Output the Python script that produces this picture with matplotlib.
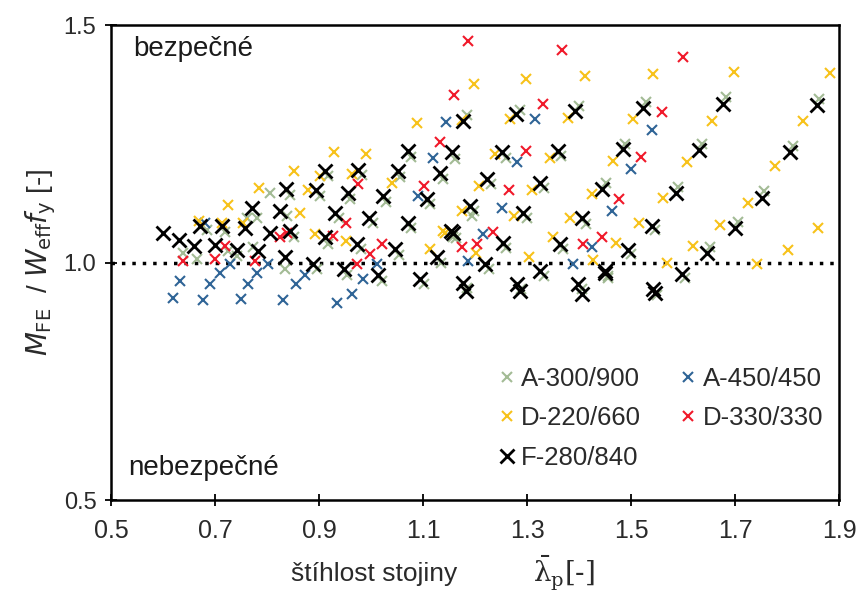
import matplotlib
matplotlib.use("Agg")
import matplotlib.pyplot as plt

plt.rcParams['font.family'] = ['Liberation Sans', 'DejaVu Sans']

# A-300/900 (green)
a300_x = [0.639, 0.665, 0.743, 0.773, 0.835, 0.761, 0.806, 0.781, 0.724, 1.194,
          0.684, 0.720, 0.839, 0.845, 0.902, 0.918, 0.983, 1.056, 0.960, 1.029,
          1.077, 1.161, 1.139, 1.114, 0.938, 1.003, 1.077, 1.158, 0.852, 0.918,
          0.980, 1.053, 1.134, 0.896, 0.954, 1.021, 1.101, 1.185, 1.287, 1.399,
          1.259, 1.366, 1.230, 1.332, 1.451, 1.198, 1.299, 1.413, 1.164, 1.260,
          1.370, 1.227, 1.332, 1.455, 1.185, 1.289, 1.405, 1.862, 1.811, 1.756,
          1.705, 1.651, 1.603, 1.549, 1.682, 1.636, 1.591, 1.546, 1.499, 1.455,
          1.528, 1.489]
a300_y = [1.021, 1.008, 1.015, 1.032, 0.987, 1.093, 1.147, 1.095, 1.025, 1.099,
          1.068, 1.065, 1.098, 1.142, 1.140, 1.182, 1.185, 1.180, 1.135, 1.128,
          1.222, 1.218, 1.176, 1.124, 1.093, 1.083, 1.072, 1.055, 1.055, 1.040,
          1.028, 1.016, 1.000, 0.986, 0.975, 0.962, 0.955, 1.310, 1.322, 1.330,
          1.220, 1.225, 1.165, 1.157, 1.168, 1.108, 1.094, 1.082, 1.051, 1.031,
          1.029, 0.987, 0.972, 0.968, 0.947, 0.945, 0.945, 1.345, 1.246, 1.150,
          1.085, 1.034, 0.968, 0.932, 1.348, 1.250, 1.160, 1.068, 1.018, 0.972,
          1.338, 1.250]

# A-450/450 (blue)
a450_x = [0.633, 0.620, 0.677, 0.691, 0.710, 0.729, 0.763, 0.749, 0.781, 0.802,
          0.831, 0.855, 0.873, 0.985, 0.935, 0.963, 1.012, 1.120, 1.145, 1.316,
          1.281, 1.251, 1.216, 1.187, 1.388, 1.425, 1.463, 1.541, 1.500, 0.681,
          1.090]
a450_y = [0.962, 0.926, 0.922, 0.956, 0.979, 0.998, 0.956, 0.924, 0.979, 0.998,
          0.922, 0.956, 0.973, 0.966, 0.916, 0.935, 0.998, 1.221, 1.297, 1.303,
          1.211, 1.116, 1.061, 1.004, 0.998, 1.032, 1.109, 1.280, 1.198, 1.084,
          1.141]

# D-220/660 (yellow)
d220_x = [0.724, 0.669, 0.714, 0.753, 0.785, 0.851, 0.929, 0.990, 1.088, 0.863,
          1.114, 1.139, 1.239, 1.345, 1.379, 1.267, 1.175, 1.208, 1.310, 1.425,
          1.175, 1.275, 1.383, 1.143, 1.202, 1.349, 1.304, 1.427, 1.198, 1.298,
          1.412, 1.882, 1.831, 1.777, 1.725, 1.671, 1.619, 1.569, 1.743, 1.802,
          1.859, 1.698, 1.655, 1.608, 1.561, 1.516, 1.471, 1.543, 1.504, 1.465,
          0.902, 0.879, 0.963, 1.041, 0.892, 0.952]
d220_y = [1.122, 1.088, 1.084, 1.084, 1.158, 1.192, 1.232, 1.229, 1.293, 1.105,
          1.029, 1.067, 1.229, 1.221, 1.305, 1.303, 1.301, 1.162, 1.152, 1.145,
          1.109, 1.099, 1.095, 1.063, 1.021, 1.053, 1.011, 1.006, 1.377, 1.387,
          1.394, 1.400, 1.299, 1.204, 1.126, 1.080, 1.036, 1.000, 0.998, 1.027,
          1.074, 1.402, 1.299, 1.211, 1.137, 1.084, 1.042, 1.398, 1.303, 1.215,
          1.183, 1.152, 1.187, 1.168, 1.060, 1.045]

# D-330/330 (red)
d330_x = [0.639, 0.700, 0.720, 0.777, 0.825, 0.839, 0.951, 0.927, 0.975, 1.022,
          0.998, 0.973, 1.102, 1.133, 1.175, 1.204, 1.235, 1.265, 1.298, 1.408,
          1.445, 1.476, 1.186, 1.367, 1.159, 1.331, 1.600, 1.559, 1.519]
d330_y = [1.004, 1.008, 1.036, 1.004, 1.053, 1.063, 1.084, 1.057, 1.166, 1.040,
          1.019, 0.998, 1.162, 1.253, 1.032, 1.040, 1.065, 1.152, 1.236, 1.040,
          1.055, 1.135, 1.467, 1.448, 1.352, 1.333, 1.432, 1.318, 1.223]

# F-280/840 (black)
f280_x = [0.600, 0.631, 0.659, 0.700, 0.743, 0.783, 0.835, 0.671, 0.714, 0.757,
          0.806, 0.825, 0.771, 0.837, 0.894, 0.912, 0.975, 1.051, 0.955, 1.023,
          1.071, 1.155, 1.133, 1.108, 0.931, 0.996, 1.071, 1.153, 0.845, 0.912,
          0.973, 1.047, 1.127, 0.889, 0.947, 1.014, 1.094, 1.177, 1.279, 1.392,
          1.252, 1.359, 1.223, 1.325, 1.445, 1.190, 1.292, 1.406, 1.157, 1.253,
          1.363, 1.220, 1.325, 1.449, 1.177, 1.281, 1.398, 1.406, 1.183, 1.287,
          1.857, 1.806, 1.751, 1.700, 1.646, 1.598, 1.543, 1.547, 1.677, 1.631,
          1.586, 1.541, 1.494, 1.450, 1.523, 1.484]
f280_y = [1.063, 1.048, 1.036, 1.038, 1.027, 1.025, 1.011, 1.078, 1.078, 1.074,
          1.063, 1.109, 1.116, 1.156, 1.154, 1.194, 1.196, 1.194, 1.147, 1.141,
          1.236, 1.232, 1.189, 1.135, 1.105, 1.095, 1.084, 1.067, 1.067, 1.053,
          1.040, 1.029, 1.011, 0.998, 0.987, 0.973, 0.966, 1.299, 1.312, 1.320,
          1.232, 1.236, 1.177, 1.168, 1.156, 1.120, 1.105, 1.093, 1.063, 1.042,
          1.040, 0.998, 0.983, 0.979, 0.958, 0.956, 0.956, 0.935, 0.941, 0.941,
          1.331, 1.232, 1.137, 1.072, 1.021, 0.977, 0.945, 0.937, 1.335, 1.238,
          1.147, 1.078, 1.027, 0.983, 1.326, 1.240]

fig = plt.figure(figsize=(8.61, 5.99), dpi=100)
ax = fig.add_axes([0.129, 0.165, 0.8455, 0.793])

h_a300, = ax.plot(a300_x, a300_y, 'x', color='#93b083', ms=7.5, mew=1.5, alpha=0.85, label='A-300/900')
h_a450, = ax.plot(a450_x, a450_y, 'x', color='#2f6496', ms=7.5, mew=1.5, label='A-450/450')
h_d220, = ax.plot(d220_x, d220_y, 'x', color='#f7c21a', ms=7.5, mew=1.5, label='D-220/660')
h_d330, = ax.plot(d330_x, d330_y, 'x', color='#f0192a', ms=7.5, mew=1.5, label='D-330/330')
h_f280, = ax.plot(f280_x, f280_y, 'x', color='black', ms=10.5, mew=2.0, label='F-280/840')

ax.axhline(1.0, color='black', ls=(0, (1, 2)), lw=2.5, zorder=0)

ax.set_xlim(0.5, 1.9)
ax.set_ylim(0.5, 1.5)
ax.set_xticks([0.5, 0.7, 0.9, 1.1, 1.3, 1.5, 1.7, 1.9])
ax.set_yticks([0.5, 1.0, 1.5])
ax.set_yticklabels(['0.5', '1.0', '1.5'])
ax.tick_params(direction='inout', length=9, width=1.3, colors='black', labelcolor='#2a2a2a')
ax.tick_params(axis='y', labelsize=17, pad=6)
ax.tick_params(axis='x', labelsize=18, pad=9)
for s in ax.spines.values():
    s.set_linewidth(1.8)

ax.text(0.542, 1.45, 'bezpečné', fontsize=20, color='#1a1a1a', va='center')
ax.text(0.533, 0.568, 'nebezpečné', fontsize=20, color='#1a1a1a', va='center')

ax.set_ylabel(r'$M_\mathrm{FE}$  / $W_\mathrm{eff}f_\mathrm{y}$ [-]', fontsize=20, color='#2a2a2a', labelpad=4)
fig.text(0.434, 0.03, 'štíhlost stojiny', fontsize=19, color='#2a2a2a', ha='center', va='baseline')
fig.text(0.619, 0.03, r'$\bar{\mathrm{\lambda}}_\mathrm{p}$[-]', fontsize=20, color='#2a2a2a',
         ha='left', va='baseline', math_fontfamily='dejavuserif', family='DejaVu Serif')

ax.legend(handles=[h_a300, h_d220, h_f280, h_a450, h_d330], ncol=2, frameon=False,
          loc='upper left', bbox_to_anchor=(0.503, 0.33), fontsize=18.5, labelcolor='#2a2a2a',
          handlelength=0.5, handletextpad=0.3, columnspacing=1.6, labelspacing=0.62,
          markerscale=0.9)

fig.savefig('out.png', dpi=100)
